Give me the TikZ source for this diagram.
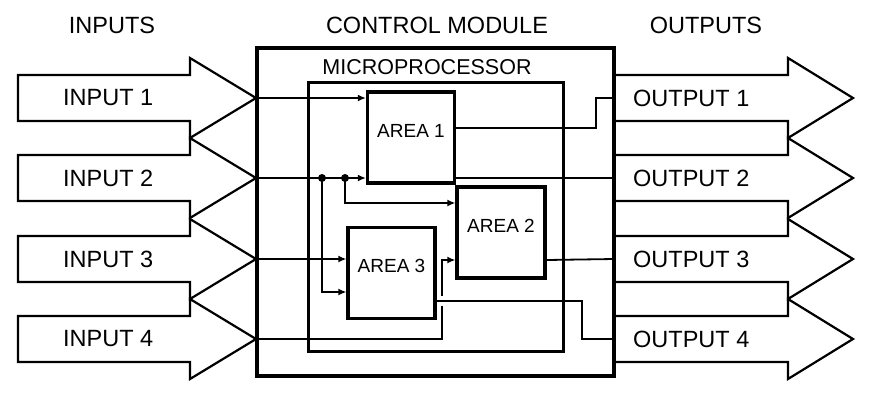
\documentclass[tikz,border=0pt]{standalone}
\usepackage{fontspec}
\setmainfont{Liberation Sans}
\usetikzlibrary{positioning,arrows.meta}

\begin{document}
\begin{tikzpicture}[x=1pt, y=-1pt,
  bigarrow/.style={line width=2.2pt, line join=miter},
  lbl/.style={font=\fontsize{23.5}{24}\selectfont, inner sep=0pt},
  small/.style={font=\fontsize{19}{20}\selectfont, inner sep=0pt},
  area/.style={draw, line width=3.2pt, fill=white, minimum width=87pt, minimum height=91pt, inner sep=0pt},
  wire/.style={line width=1.8pt},
  feed/.style={wire, -{Latex[length=8pt,width=7pt]}},
  dot/.style={circle, fill, inner sep=0pt, minimum size=8pt},
]
\useasboundingbox (0,0) rectangle (880,402);

% headings
\node[lbl] (hin) at (112,25) {INPUTS};
\node[lbl] (hctrl) at (437,25) {CONTROL MODULE};
\node[lbl] (hout) at (706,25) {OUTPUTS};

% boxes
\node[draw, line width=4pt, minimum width=357pt, minimum height=328pt] (ctrl) at (435.5,212) {};
\node[draw, line width=3pt, minimum width=255pt, minimum height=269pt] (mp) at (435.5,216.5) {};
\node[lbl, font=\fontsize{21.5}{22}\selectfont] (mptitle) at (427,67) {MICROPROCESSOR};

% big arrows
\foreach \i/\y in {1/98,2/178,3/259,4/339}{
  \draw[bigarrow] (18,\y-23) -- (190,\y-23) -- (190,\y-40) -- (256,\y) -- (190,\y+40) -- (190,\y+23) -- (18,\y+23) -- cycle;
  \node[lbl, anchor=west] (in\i) at (63,\y) {INPUT \i};
  \coordinate (tip\i) at (256,\y);
  \draw[bigarrow] (615,\y-23) -- (788,\y-23) -- (788,\y-40) -- (853,\y) -- (788,\y+40) -- (788,\y+23) -- (615,\y+23);
  \node[lbl, anchor=west] (out\i) at (633,\y) {OUTPUT \i};
  \coordinate (tail\i) at (614,\y);
}

% areas
\node[area, label={[small, yshift=7pt]center:AREA 1}] (a1) at (411,137.5) {};
\node[area, minimum width=88pt, label={[small, yshift=7pt]center:AREA 2}] (a2) at (501,232.5) {};
\node[area, label={[small, yshift=7pt]center:AREA 3}] (a3) at (391.5,273) {};

% inputs to areas
\coordinate (j1) at (322,178);
\coordinate (j2) at (345,178);
\draw[feed] (tip1) -- (tip1 -| a1.west);
\draw[feed] (tip2) -- (tip2 -| a1.west);
\draw[feed] (j2) |- (a2.west |- 0,203);
\draw[feed] (j1) |- (a3.west |- 0,292);
\draw[feed] (tip3) -- (tip3 -| a3.west);
\draw[feed] (tip4) -- (442,339) -- (442,306) (442,296) -- (442,260) -- (a2.west |- 0,260);
\node[dot] (d1) at (j1) {};
\node[dot] (d2) at (j2) {};

% areas to outputs
\draw[wire] (a1.east |- 0,128) -| (596,98) -- (tail1);
\draw[wire] (a1.east |- 0,178) -- (tail2);
\draw[wire] (a2.east |- 0,260) -- (tail3);
\draw[wire] (a3.east |- 0,301) -| (582,339) -- (tail4);
\end{tikzpicture}
\end{document}
